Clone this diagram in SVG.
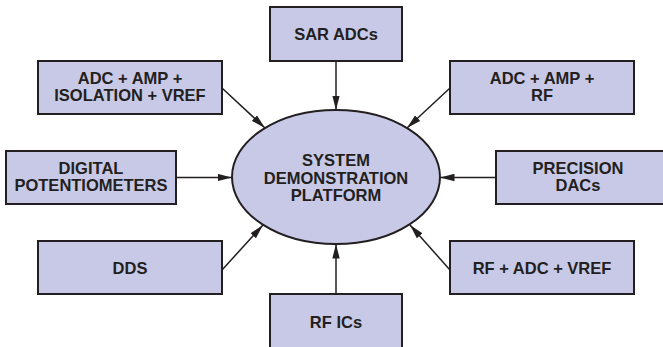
<svg xmlns="http://www.w3.org/2000/svg" width="663" height="347" viewBox="0 0 663 347">
  <defs>
    <marker id="arrow" markerUnits="userSpaceOnUse" markerWidth="15" markerHeight="8" refX="14.5" refY="4" orient="auto">
      <path d="M0,0.3 L14.5,4 L0,7.7 z" fill="#231f20"/>
    </marker>
  </defs>
  <style>
    .box { fill: #c8c9e6; stroke: #231f20; stroke-width: 2; }
    .lbl { font-family: "Liberation Sans", Arial, sans-serif; font-weight: bold; font-size: 16.5px; fill: #231f20; text-anchor: middle; }
    .conn { stroke: #231f20; stroke-width: 1.5; fill: none; marker-end: url(#arrow); }
  </style>
  <rect width="663" height="347" fill="#ffffff"/>

  <g id="connectors">
    <line class="conn" x1="336" y1="61" x2="336" y2="110"/>
    <line class="conn" x1="336" y1="294" x2="336" y2="244"/>
    <line class="conn" x1="222" y1="88" x2="265" y2="128"/>
    <line class="conn" x1="450" y1="88" x2="407" y2="128"/>
    <line class="conn" x1="176" y1="177.5" x2="232" y2="177.5"/>
    <line class="conn" x1="496" y1="177.5" x2="440" y2="177.5"/>
    <line class="conn" x1="222" y1="270" x2="263" y2="225"/>
    <line class="conn" x1="450" y1="270" x2="410" y2="225"/>
  </g>

  <g id="center">
    <ellipse class="box" cx="336" cy="177" rx="104" ry="67"/>
    <text class="lbl" x="336" y="166">SYSTEM</text>
    <text class="lbl" x="336" y="183.5">DEMONSTRATION</text>
    <text class="lbl" x="336" y="201">PLATFORM</text>
  </g>

  <g id="sar-adcs">
    <rect class="box" x="270" y="7" width="132" height="54"/>
    <text class="lbl" x="336" y="40">SAR ADCs</text>
  </g>

  <g id="adc-amp-iso">
    <rect class="box" x="38" y="61" width="184" height="53"/>
    <text class="lbl" x="130" y="83.5">ADC + AMP +</text>
    <text class="lbl" x="130" y="101">ISOLATION + VREF</text>
  </g>

  <g id="adc-amp-rf">
    <rect class="box" x="450" y="61" width="184" height="53"/>
    <text class="lbl" x="542" y="83.5">ADC + AMP +</text>
    <text class="lbl" x="542" y="101">RF</text>
  </g>

  <g id="digital-pots">
    <rect class="box" x="6" y="151" width="170" height="53"/>
    <text class="lbl" x="91" y="173.5">DIGITAL</text>
    <text class="lbl" x="91" y="191">POTENTIOMETERS</text>
  </g>

  <g id="precision-dacs">
    <rect class="box" x="496" y="151" width="172" height="53"/>
    <text class="lbl" x="578" y="173.5">PRECISION</text>
    <text class="lbl" x="578" y="191">DACs</text>
  </g>

  <g id="dds">
    <rect class="box" x="38" y="241" width="184" height="53"/>
    <text class="lbl" x="130" y="273.5">DDS</text>
  </g>

  <g id="rf-adc-vref">
    <rect class="box" x="450" y="241" width="184" height="53"/>
    <text class="lbl" x="542" y="273.5">RF + ADC + VREF</text>
  </g>

  <g id="rf-ics">
    <rect class="box" x="270" y="294" width="132" height="56"/>
    <text class="lbl" x="336" y="327.5">RF ICs</text>
  </g>
</svg>
